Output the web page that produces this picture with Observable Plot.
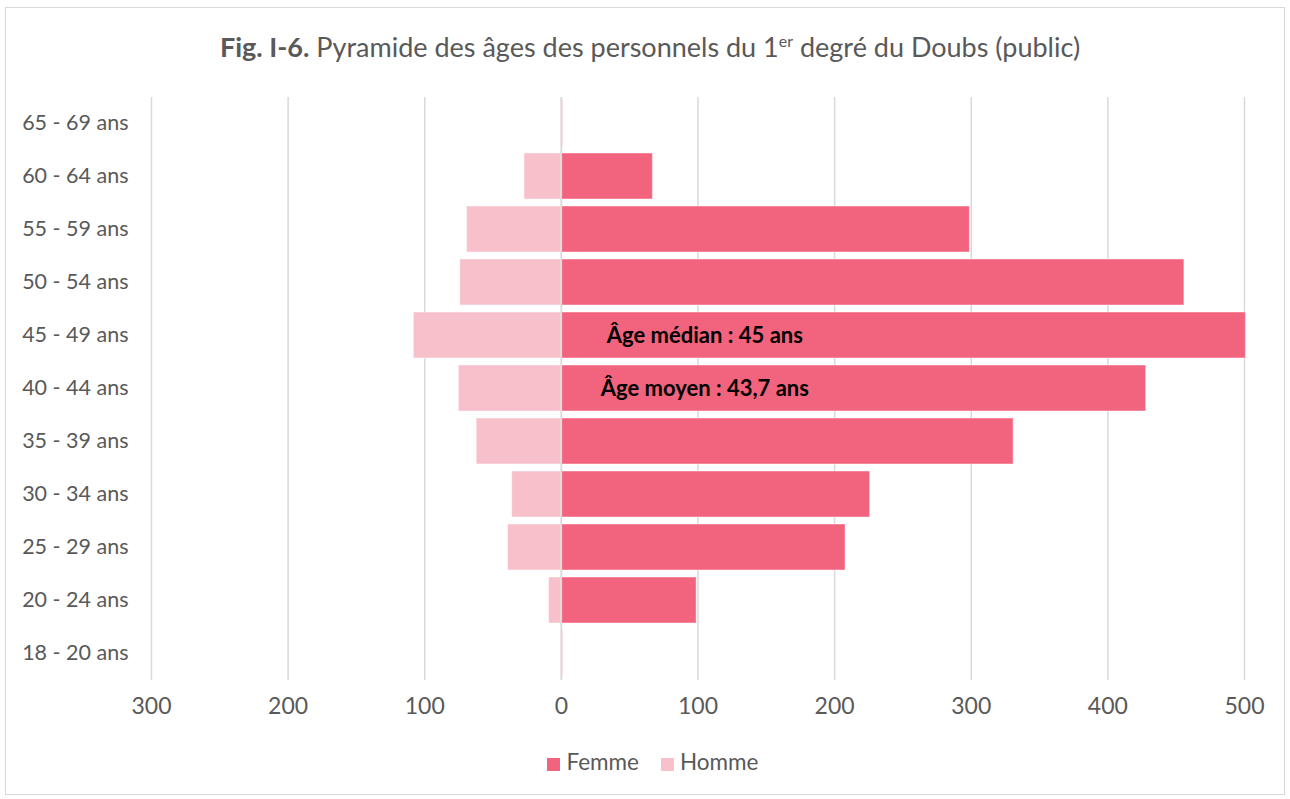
<!DOCTYPE html>
<html><head><meta charset="utf-8">
<script src="https://cdn.jsdelivr.net/npm/d3@7"></script>
<script src="https://cdn.jsdelivr.net/npm/@observablehq/plot@0.6"></script>
<style>
body{margin:0;background:#fff;font-family:Lato,"Open Sans",sans-serif;}
#frame{position:absolute;left:5px;top:7px;width:1280px;height:788px;border:1px solid #d9d9d9;box-sizing:border-box;}
#title{position:absolute;left:0;top:31px;width:1300px;text-align:center;font-size:27px;line-height:32px;color:#595959;}
#title b{font-weight:700}
#chart{position:absolute;left:0;top:80px;}
#legend{position:absolute;left:0;top:748px;width:1306px;text-align:center;font-size:22.5px;line-height:28px;color:#595959;}
.sw{display:inline-block;width:13px;height:13px;vertical-align:-1px;margin-right:6px;}
.it{margin:0 11px;}
</style></head><body>
<div id="frame"></div>
<div id="title"><b>Fig. I-6.</b> Pyramide des âges des personnels du 1<sup style="font-size:16px;line-height:0">er</sup> degré du Doubs (public)</div>
<div id="chart"></div>
<div id="legend"></div>
<script>
const ageGroups = ["65 - 69 ans","60 - 64 ans","55 - 59 ans","50 - 54 ans","45 - 49 ans","40 - 44 ans","35 - 39 ans","30 - 34 ans","25 - 29 ans","20 - 24 ans","18 - 20 ans"];
const femme = [1, 67, 299, 456, 501, 428, 331, 226, 208, 99, 1];
const homme = [0, 27, 69, 74, 108, 75, 62, 36, 39, 9, 0];
const xTicks = [-300,-200,-100,0,100,200,300,400,500];
const series = ["Femme","Homme"];
const colors = ["#f2647e","#f8c0cb"];
const annotations = [
  {age:"45 - 49 ans", x:105, text:"Âge médian : 45 ans"},
  {age:"40 - 44 ans", x:105, text:"Âge moyen : 43,7 ans"}
];

const rows = [];
ageGroups.forEach((a,i)=>{
  rows.push({age:a, sexe:"Homme", v:-homme[i]});
  rows.push({age:a, sexe:"Femme", v:femme[i]});
});

const chart = Plot.plot({
  width:1290, height:648,
  marginLeft:151, marginRight:46, marginTop:17, marginBottom:48,
  style:{fontFamily:"Lato, 'Open Sans', sans-serif", fontSize:"21.5px", color:"#595959", background:"transparent"},
  x:{domain:[-300,500], ticks:xTicks, tickFormat:d=>Math.abs(d), tickSize:0, tickPadding:17, label:null},
  y:{domain:ageGroups, paddingInner:0.13, paddingOuter:0.065, tickSize:0, tickPadding:23, label:null},
  color:{domain:series, range:colors},
  marks:[
    Plot.ruleX(xTicks, {stroke:"#d9d9d9", strokeWidth:1.5}),
    Plot.barX(rows.filter(d=>d.v!==0), {x:"v", y:"age", fill:"sexe", stroke:"#fff", strokeOpacity:0.45, strokeWidth:1}),
    Plot.ruleX([0], {stroke:"#d9d9d9", strokeWidth:1.5}),
    Plot.text(annotations, {x:"x", y:"age", text:"text", fill:"#000", fontWeight:"bold", fontSize:22, textAnchor:"middle"})
  ]
});
chart.querySelectorAll('[aria-label="x-axis tick label"] text').forEach(t=>t.style.fontSize="23px");
document.getElementById("chart").appendChild(chart);

const lg = document.getElementById("legend");
series.forEach((s,i)=>{
  const sp = document.createElement("span"); sp.className="it";
  sp.innerHTML = `<span class="sw" style="background:${colors[i]}"></span>${s}`;
  lg.appendChild(sp);
});
</script>
</body></html>
